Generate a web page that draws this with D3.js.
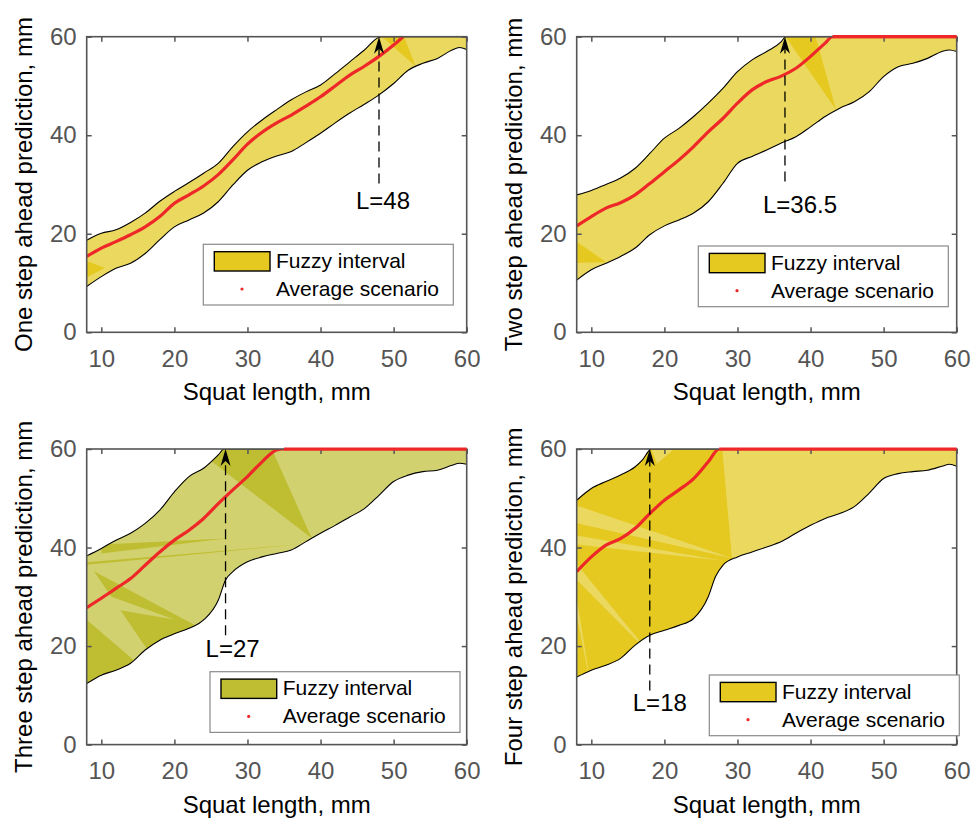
<!DOCTYPE html>
<html>
<head>
<meta charset="utf-8">
<script src="https://cdn.jsdelivr.net/npm/d3@7"></script>
<style>
body { margin: 0; background: #fff; }
text { font-family: "Liberation Sans", Arial, sans-serif; }
</style>
</head>
<body>
<svg id="chart" width="971" height="819"></svg>
<script>
// values: [squat length, prediction]
const upper1 = [[8,18.7],[10,20.1],[12,20.8],[14,22.3],[16,24.2],[18,26.6],[20,28.6],[22,30.4],[24,32.3],[26,34.3],[28,37.7],[30,40.7],[32,43.1],[34,45.2],[36,47.2],[38,48.8],[40,50.2],[42,52.5],[44,54.9],[46,57.3],[48,59.9],[48.3,60],[60,60]]
const lower1 = [[8,9.3],[10,11.3],[12,13.0],[14,14.0],[16,16.0],[18,18.8],[20,21.4],[22,22.8],[24,24.2],[26,26.5],[28,29.9],[30,32.9],[32,34.6],[34,35.8],[36,36.7],[38,38.5],[40,40.4],[42,42.5],[44,44.5],[46,46.3],[48,48.2],[50,50.5],[52,53.2],[54,54.6],[56,55.6],[58,57.3],[59,57.8],[60,57.4]]
const avg1 = [[8,15.4],[10,17.1],[12,18.4],[14,19.8],[16,21.4],[18,23.5],[20,26.2],[22,27.9],[24,29.7],[26,32.0],[28,35.0],[30,38.2],[32,40.6],[34,42.5],[36,44.1],[38,45.9],[40,47.8],[42,50.0],[44,52.2],[46,54.0],[48,56.0],[50,58.3],[51.3,60]]

const upper2 = [[8,27.9],[10,28.8],[12,30.0],[14,31.3],[16,33.3],[18,36.3],[20,39.4],[22,41.4],[24,43.8],[26,46.5],[28,49.5],[30,52.9],[32,55.3],[34,57.0],[36,59.0],[36.6,60],[60,60]]
const lower2 = [[8,10.6],[10,12.7],[12,14.0],[14,15.4],[16,17.1],[18,19.8],[20,21.6],[22,22.8],[24,24.2],[26,26.5],[28,30.2],[30,34.3],[32,35.7],[34,37.0],[36,38.4],[38,39.7],[40,41.7],[42,43.8],[44,45.5],[46,46.8],[48,48.8],[50,51.9],[52,53.9],[54,54.6],[56,55.6],[58,57.0],[59,57.3],[60,57.0]]
const avg2 = [[8,21.6],[10,23.5],[12,25.2],[14,26.3],[16,27.9],[18,30.2],[20,32.6],[22,35.0],[24,37.7],[26,40.7],[28,43.4],[30,46.5],[32,49.2],[34,50.9],[36,52.0],[38,53.6],[40,56.0],[42,58.7],[43,60],[60,60]]

const upper3 = [[8,38.3],[10,39.8],[12,41.5],[14,42.9],[16,44.9],[18,47.6],[20,51.3],[22,54.4],[24,56.1],[26,58.8],[26.8,60],[60,60]]
const lower3 = [[8,12.4],[10,14.1],[12,15.1],[14,16.5],[16,19.2],[18,21.2],[20,22.5],[22,23.6],[24,25.3],[26,29.3],[27,33.4],[28,35.1],[30,37.1],[32,38.1],[34,38.8],[36,39.5],[38,41.2],[40,42.9],[42,44.5],[44,46.2],[46,47.9],[48,50.6],[50,53.4],[52,54.7],[54,55.4],[56,55.7],[58,56.7],[59,57.1],[60,56.9]]
const avg3 = [[8,27.8],[10,29.7],[12,31.7],[14,33.7],[16,36.4],[18,39.1],[20,41.5],[22,43.5],[24,45.9],[26,48.9],[28,51.7],[30,54.4],[32,57.4],[34,59.8],[35,60],[60,60]]

const upper4 = [[8,49.6],[10,52.0],[12,53.4],[14,54.7],[16,56.4],[17,57.8],[18,59.8],[18.2,60],[60,60]]
const lower4 = [[8,13.7],[10,15.1],[12,16.1],[14,17.5],[16,20.2],[18,22.2],[20,23.2],[22,24.2],[24,25.6],[26,30.0],[27,34.1],[28,36.4],[30,38.1],[32,39.1],[34,40.1],[36,41.2],[38,42.9],[40,44.5],[42,45.9],[44,46.9],[46,48.3],[48,51.0],[50,54.0],[52,55.0],[54,55.4],[56,55.7],[58,56.5],[59,56.9],[60,56.5]]
const avg4 = [[8,35.1],[10,38.1],[12,40.5],[14,41.8],[16,43.9],[18,46.9],[20,49.6],[22,51.7],[24,54.0],[26,57.4],[27.5,60],[60,60]]

// overlap wedges of the rendered fill: [squat length, share of the way from lower to upper bound]
const shade1 = [[[48.4,1],[51,1.2],[53,0]], [[8,0.2],[8,0.55],[10.5,0.15]]]
const shade2 = [[[36.6,1],[40,1.2],[43.5,0]], [[8,0.45],[12,0.02],[8,0.2]]]
const shade3 = [[[24.5,1.05],[32,1.2],[38.8,0]], [[8,-0.2],[8,0.5],[14.5,0]], [[9,0.85],[24.5,-0.1],[17,-0.1]],
  [[10,1.03],[27,0.32],[10,0.96]], [[8,0.95],[37,0.02],[8,0.93]]]
const shade4 = [[[8,-0.5],[29.4,-0.1],[27.5,1.3],[8,1.3]]]
const gleam3 = [[[8,0.75],[8,0.62],[20,0.1]]]
const gleam4 = [[[8,0.97],[8,0.87],[29.4,0.0]], [[8,0.8],[8,0.75],[28,0.04]], [[8,0.35],[8,0.45],[10,-0.1]],
  [[8,0.55],[8,0.64],[18,-0.1]], [[18.2,1],[19,0.92],[24,1.1]], [[27.5,1.3],[28.2,1.3],[29.4,-0.1]]]

const steps = ["One", "Two", "Three", "Four"]
const arrowL = [48, 36.5, 27, 18]
const arrowTail = [30.2, 30.6, 22.2, 11.0]
const labelY = [25.0, 24.2, 17.8, 6.8]
const xTicks = [10, 20, 30, 40, 50, 60]
const yTicks = [0, 20, 40, 60]

const panels = [
  {left: 86.7, top: 36.7, upper: upper1, lower: lower1, avg: avg1, shade: shade1, gleam: [], light: "#ebd85e", dark: "#e5c920", leg: [203.3, 244.3], labDx: -23},
  {left: 576.7, top: 36.7, upper: upper2, lower: lower2, avg: avg2, shade: shade2, gleam: [], light: "#ebd85e", dark: "#e5c920", leg: [698.3, 246], labDx: -22},
  {left: 86.7, top: 449, upper: upper3, lower: lower3, avg: avg3, shade: shade3, gleam: gleam3, light: "#d2d16f", dark: "#bfbe33", leg: [210, 671.7], labDx: -20},
  {left: 576.7, top: 449, upper: upper4, lower: lower4, avg: avg4, shade: shade4, gleam: gleam4, light: "#ebd85e", dark: "#e5c920", leg: [709.3, 675], labDx: -17}
]
const W = 380, H = 295.6
const axisGray = "#555"
const red = "#ee2828"

const svg = d3.select("#chart")
const defs = svg.append("defs")

panels.forEach((p, i) => {
  const x = d3.scaleLinear().domain([8, 60]).range([0, W])
  const y = d3.scaleLinear().domain([0, 60]).range([H, 0])
  const g = svg.append("g").attr("transform", `translate(${p.left},${p.top})`)

  defs.append("clipPath").attr("id", "clip" + i)
    .append("rect").attr("width", W).attr("height", H)

  const plot = g.append("g").attr("clip-path", `url(#clip${i})`)
  const smooth = d3.line().x(d => x(d[0])).y(d => y(d[1])).curve(d3.curveMonotoneX)

  // sample the smoothed bounds
  const sample = (data) => {
    const node = plot.append("path").attr("d", smooth(data)).attr("fill", "none").node()
    const len = node.getTotalLength(), pts = []
    for (let s = 0; s <= 500; s++) { const q = node.getPointAtLength(len * s / 500); pts.push([q.x, q.y]) }
    node.remove()
    return pts
  }
  const upPts = sample(p.upper)
  const loPts = sample(p.lower)
  const polyD = "M" + upPts.concat(loPts.slice().reverse()).map(d => d.join(",")).join("L") + "Z"

  defs.append("clipPath").attr("id", "band" + i).append("path").attr("d", polyD)

  plot.append("path").attr("d", polyD).attr("fill", p.light)

  const yAtPx = (pts, px) => {
    let best = pts[0]
    for (const q of pts) if (Math.abs(q[0] - px) < Math.abs(best[0] - px)) best = q
    return best[1]
  }
  const toPx = poly => poly.map(([sx, t]) => {
    const px = x(sx)
    const yl = yAtPx(loPts, px), yu = yAtPx(upPts, px)
    return [px, yl + (yu - yl) * t]
  })
  const wedges = plot.append("g").attr("clip-path", `url(#band${i})`)
  p.shade.forEach(poly => {
    wedges.append("path").attr("d", "M" + toPx(poly).map(d => d.join(",")).join("L") + "Z")
      .attr("fill", p.dark)
  })
  p.gleam.forEach(poly => {
    wedges.append("path").attr("d", "M" + toPx(poly).map(d => d.join(",")).join("L") + "Z")
      .attr("fill", p.light)
  })

  // outline of the interval
  plot.append("path").attr("d", smooth(p.upper)).attr("fill", "none").attr("stroke", "#000").attr("stroke-width", 1.1)
  plot.append("path").attr("d", smooth(p.lower)).attr("fill", "none").attr("stroke", "#000").attr("stroke-width", 1.1)

  // axes: ticks inward on all four sides
  const ax = g.append("g").attr("transform", `translate(0,${H})`)
    .call(d3.axisBottom(x).tickValues(xTicks).tickSizeInner(-5).tickSizeOuter(0).tickPadding(17.5))
  const ay = g.append("g")
    .call(d3.axisLeft(y).tickValues(yTicks).tickSizeInner(-5).tickSizeOuter(0).tickPadding(10))
  const at = g.append("g")
    .call(d3.axisTop(x).tickValues(xTicks).tickSizeInner(-5).tickSizeOuter(0).tickFormat(""))
  const ar = g.append("g").attr("transform", `translate(${W},0)`)
    .call(d3.axisRight(y).tickValues(yTicks).tickSizeInner(-5).tickSizeOuter(0).tickFormat(""))
  ;[ax, ay, at, ar].forEach(a => {
    a.select(".domain").remove()
    a.selectAll("line").attr("stroke", axisGray).attr("stroke-width", 1.5)
    a.selectAll("text").attr("fill", axisGray).attr("font-size", 24)
      .style("font-family", '"Liberation Sans", Arial, sans-serif')
  })
  g.append("rect").attr("width", W).attr("height", H)
    .attr("fill", "none").attr("stroke", axisGray).attr("stroke-width", 1.6)

  // average scenario
  plot.append("path").attr("d", smooth(p.avg))
    .attr("fill", "none").attr("stroke", red).attr("stroke-width", 3.2)
  // flat part at the ceiling is drawn over the frame
  const flat = p.avg.filter(d => d[1] >= 60)
  if (flat.length > 1) {
    g.append("line").attr("x1", x(flat[0][0])).attr("x2", x(flat[flat.length - 1][0]))
      .attr("y1", y(60)).attr("y2", y(60)).attr("stroke", red).attr("stroke-width", 3.2)
  }

  // annotation arrow
  const axX = x(arrowL[i])
  g.append("line").attr("x1", axX).attr("x2", axX).attr("y1", y(arrowTail[i])).attr("y2", y(60) + 10)
    .attr("stroke", "#000").attr("stroke-width", 1.3).attr("stroke-dasharray", "10,6")
  g.append("path").attr("d", `M${axX},${y(60)}L${axX + 5},${y(60) + 17}L${axX},${y(60) + 12}L${axX - 5},${y(60) + 17}Z`)
    .attr("fill", "#000")
  g.append("text").attr("x", axX + p.labDx).attr("y", y(labelY[i]))
    .attr("font-size", 24).attr("fill", "#000").text("L=" + arrowL[i])

  // axis titles
  g.append("text").attr("x", W / 2).attr("y", H + 68).attr("text-anchor", "middle")
    .attr("font-size", 24).attr("fill", "#000").text("Squat length, mm")
  g.append("text").attr("transform", `translate(-55,${H / 2}) rotate(-90)`).attr("text-anchor", "middle")
    .attr("font-size", 24).attr("fill", "#000").text(steps[i] + " step ahead prediction, mm")

  // legend
  const lg = svg.append("g").attr("transform", `translate(${p.leg[0]},${p.leg[1]})`)
  lg.append("rect").attr("width", 250).attr("height", 60.7).attr("fill", "#fff")
    .attr("stroke", "#8a8a8a").attr("stroke-width", 1.2)
  lg.append("rect").attr("x", 11).attr("y", 7.4).attr("width", 55.7).attr("height", 19.3)
    .attr("fill", p.dark).attr("stroke", "#000").attr("stroke-width", 1.4)
  lg.append("text").attr("x", 72.7).attr("y", 23.7).attr("font-size", 21).attr("fill", "#000").text("Fuzzy interval")
  lg.append("circle").attr("cx", 38.7).attr("cy", 44.7).attr("r", 1.6).attr("fill", red)
  lg.append("text").attr("x", 72.7).attr("y", 51.7).attr("font-size", 21).attr("fill", "#000").text("Average scenario")
})
</script>
</body>
</html>
